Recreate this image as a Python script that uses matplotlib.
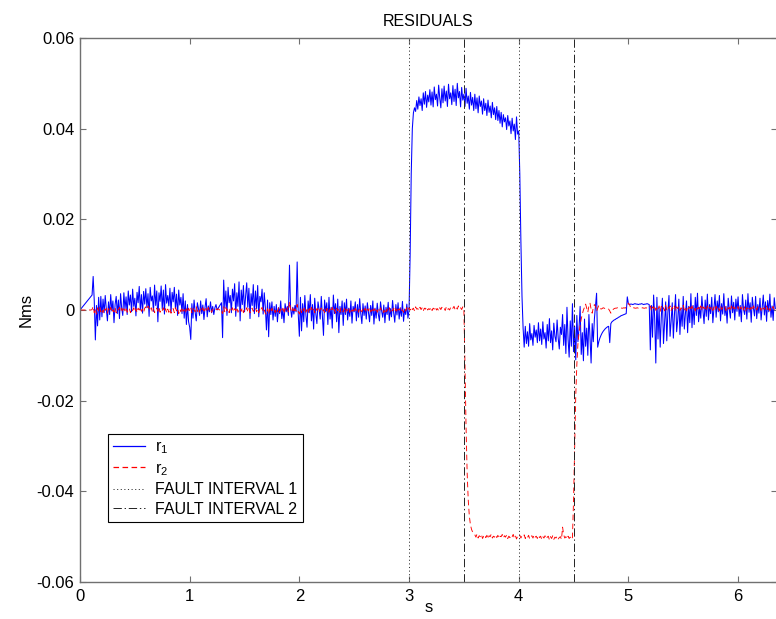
import numpy as np
import matplotlib
matplotlib.use("Agg")
import matplotlib.pyplot as plt

plt.rcParams["font.family"] = ["Liberation Sans", "DejaVu Sans"]
plt.rcParams["mathtext.default"] = "regular"
plt.rcParams["axes.unicode_minus"] = False
plt.rcParams["lines.scale_dashes"] = False

# sampling step of the residual traces (s)
DT = 0.01

# residual r1, in 1e-3 Nms, one row per 0.2 s
r1_milli = [
    0.0, 0.3, 0.6, 0.9, 1.2, 1.5, 1.8, 2.1, 2.4, 2.7, 3.0, 3.3, 7.4, 2.0, -6.6, 1.0, -3.5, 2.8, -2.2, 3.0,
    -1.5, 2.4, -0.6, 3.2, 0.2, -2.4, 1.8, -1.0, 3.4, -0.2, 2.0, -2.8, 1.2, 3.0, -0.8, 2.2, -1.9, 3.6, 0.4, -1.2,
    3.8, 0.2, 2.9, -1.0, 4.2, 1.1, 3.3, -0.4, 4.6, 0.8, 2.6, -1.3, 3.9, 1.6, 5.2, 0.0, 3.4, -0.7, 4.1, 1.3,
    4.7, 0.5, 3.6, -1.4, 5.0, 2.0, 3.1, -0.3, 5.5, 1.0, 4.2, -2.6, 3.8, 1.9, 5.3, 0.2, 4.4, -0.9, 5.6, 1.5,
    3.2, 0.9, 4.8, -0.6, 3.9, 1.8, 5.0, 0.4, 3.5, -1.2, 4.4, 1.1, 2.8, -0.8, 3.6, -1.8, 2.0, -3.2, 1.2, -2.6,
    -3.8, -6.5, 1.4, -1.8, 2.2, -0.5, -2.4, 1.6, 0.3, -1.2, 2.0, -0.8, 1.1, -2.1, 0.6, 2.5, -1.5, 0.9, -0.4, 1.8,
    -0.6, 0.8, -1.0, 0.5, 1.2, 0.0, 0.4, 0.8, 1.2, 1.6, -6.1, 6.6, 0.4, 4.2, -1.2, 5.0, 1.6, 3.2, -0.6, 4.6,
    2.0, 5.8, -1.4, 3.8, 0.8, 6.2, -2.4, 4.4, 1.2, 5.4, -0.4, 3.1, 6.0, 0.6, 4.8, -1.9, 3.6, 1.0, 5.6, -0.8,
    4.2, 0.3, 5.4, -1.5, 3.0, 1.8, 4.6, -0.9, 3.8, 0.5, -4.4, 2.2, -5.9, 1.6, -1.0, 1.8, -2.2, 0.8, -1.4, 1.2,
    -2.6, 0.5, -0.8, 2.0, -1.9, 0.2, -2.8, 1.4, -0.4, 0.8, -1.2, 9.9, 0.4, -1.6, 0.6, -0.9, 1.0, -0.4, 10.6, -1.0,
    -5.8, 2.8, -4.6, 1.4, -2.6, 3.2, -1.2, -3.8, 2.0, -0.6, 3.4, -2.4, 1.2, -4.2, 2.6, -0.8, -3.0, 1.8, 0.2, -2.0,
    3.0, -1.4, -5.6, 2.2, -0.4, 1.6, -3.2, 2.8, -2.0, 0.6, -4.0, 3.3, -0.8, 1.4, -2.6, 2.4, -5.0, 0.8, -1.0, 2.0,
    -3.4, 1.6, -1.0, 2.4, -2.2, 0.4, -1.4, 2.0, -2.9, 0.8, -0.4, 1.8, -2.4, 1.2, -1.6, 2.5, -0.8, -3.0, 1.4, -1.2,
    0.9, -2.0, 1.6, -0.6, -2.6, 1.0, -1.2, 2.0, -3.1, 0.4, -1.8, 1.5, -0.9, -2.4, 1.8, -0.2, -1.6, 1.1, -2.8, 0.6,
    -1.0, 1.7, -2.3, 0.3, -1.5, 2.1, -0.6, -2.7, 1.2, -1.1, 1.6, -2.0, 0.5, -1.4, 1.9, -2.5, 0.2, -1.0, 1.3, -1.8,
    0.0, 12.0, 30.0, 40.0, 43.5, 44.6, 43.8, 46.2, 44.3, 47.0, 45.1, 46.6, 44.0, 47.9, 45.4, 48.2, 44.7, 47.4, 45.9, 48.6,
    45.2, 48.1, 44.8, 49.2, 46.4, 47.6, 45.0, 49.6, 46.8, 44.6, 48.8, 45.7, 49.4, 46.1, 48.3, 44.9, 49.8, 46.6, 47.9, 45.3,
    49.5, 46.0, 48.7, 45.1, 50.0, 46.8, 48.2, 44.8, 49.1, 46.3, 47.6, 44.9, 48.9, 45.6, 47.2, 44.3, 48.0, 45.2, 46.9, 44.0,
    47.6, 44.4, 46.8, 43.5, 47.2, 44.9, 46.1, 43.2, 46.6, 44.0, 45.6, 42.9, 46.3, 43.6, 45.0, 42.4, 45.8, 43.1, 44.6, 42.0,
    44.9, 41.8, 44.0, 41.2, 43.6, 40.4, 43.1, 41.5, 42.4, 39.8, 42.9, 40.6, 41.7, 38.9, 42.3, 39.5, 41.0, 37.6, 42.6, 38.8,
    39.5, 30.0, 15.0, 3.0, -4.0, -8.2, -3.6, -7.4, -4.8, -8.0, -3.0, -6.6, -5.2, -7.8, -3.4, -6.0, -4.4, -7.2, -2.8, -6.8,
    -4.2, -7.6, -2.6, -6.4, -5.0, -8.4, -3.2, -6.8, -1.9, -7.2, -4.6, -8.8, -2.9, -5.8, -7.0, -2.2, -6.2, -8.6, -3.8, -5.4,
    -1.0, -7.8, -3.2, -9.6, 0.6, -6.4, -10.4, -2.4, -8.0, 1.4, -9.2, -3.6, -11.0, -1.2, -7.0, -4.0, 0.8, -9.8, -5.0, -11.2,
    -2.0, -8.0, -4.0, -10.0, -1.0, -6.0, -11.7, -3.0, -7.0, -2.0, 1.0, 3.7, -8.2, -7.0, -6.2, -5.6, -5.1, -4.7, -4.4, -4.1,
    -3.9, -3.7, -3.6, -7.2, -3.0, -2.6, -2.4, -2.2, -2.1, -1.9, -1.8, -1.6, -1.5, -1.3, -1.2, -1.1, -1.0, -0.9, -0.8, 2.9,
    1.4, 1.2, 1.3, 1.3, 1.2, 1.3, 1.4, 1.3, 1.3, 1.2, 1.3, 1.3, 1.4, 1.3, 1.2, 1.3, 1.3, 1.4, 1.3, 1.2,
    -8.8, 1.0, -6.0, 3.3, -2.0, -11.7, 2.8, -6.4, 0.4, -8.2, -1.6, 2.6, -7.4, -3.0, 1.8, -6.8, -0.6, 3.2, -5.8, -2.4,
    1.6, -6.2, -1.0, 3.4, -4.8, -2.2, 2.4, -5.4, 0.2, -3.6, 3.0, -4.2, -0.8, 2.0, -5.0, 0.8, -2.8, 3.6, -3.9, 1.0,
    -3.2, 2.8, -1.2, 3.7, -2.6, 0.6, -1.8, 3.0, -0.2, -3.0, 2.2, -1.4, 3.5, -2.2, 1.2, -0.8, 2.8, -2.8, 0.4, 3.4,
    -1.6, 2.0, -0.4, 3.2, -2.4, 1.4, -0.9, 3.6, -1.2, 0.8, -2.9, 2.6, 0.2, -1.8, 3.1, -0.6, 1.7, -2.2, 2.4, -0.3,
    2.9, -1.4, 1.0, -2.6, 3.4, 0.1, -1.0, 2.2, -2.0, 3.6, -0.5, 1.6, -2.7, 2.8, 0.4, -1.3, 3.0, -1.9, 1.2, -0.7,
    2.6, -2.2, 0.6, 3.3, -1.1, 1.8, -2.5, 2.1, -0.4, 3.5, -1.6, 0.9, -2.3, 2.7, 0.3,
]

# residual r2, in 1e-3 Nms, same sampling
r2_milli = [
    0.0, 0.0, 0.0, 0.0, 0.0, 0.0, 0.0, 0.0, 0.0, 0.0, 0.0, 0.1, 0.8, -0.6, 0.3, -0.9, 0.5, -0.2, 0.6, -0.4,
    0.2, -0.6, 0.5, -0.1, 0.4, -0.7, 0.3, -0.3, 0.6, -0.5, 0.1, -0.4, 0.5, -0.6, 0.2, 0.0, 0.6, -0.3, 0.4, -0.5,
    0.3, -0.2, 0.6, -0.5, 0.1, 0.4, -0.6, 0.2, -0.1, 0.5, -0.4, 0.3, -0.6, 0.4, 0.0, 0.6, -0.3, 0.2, -0.5, 0.4,
    0.7, 0.2, 0.9, 0.4, -0.2, 0.5, -0.4, 0.3, -0.6, 0.1, 0.4, -0.3, 0.6, -0.5, 0.2, -0.1, 0.5, -0.4, 0.3, -0.6,
    0.2, -0.5, 0.4, -0.7, 0.1, 0.3, -0.6, 0.5, -0.2, 0.4, -0.8, 0.2, -0.4, 0.6, -0.3, 0.1, -0.7, 0.3, -0.5, 0.4,
    -0.2, 0.5, -0.6, 0.3, 0.0, -0.4, 0.7, -0.3, 0.2, -0.5, 0.4, -0.1, 0.5, -0.6, 0.2, 0.3, -0.4, 0.6, -0.2, 0.1,
    -0.5, 0.2, -0.1, 0.0, 0.2, 0.1, 0.3, 0.0, 0.2, -0.2, -0.8, 0.7, -0.4, 0.5, -0.2, 0.3, -0.6, 0.4, -0.1, 0.5,
    -0.4, 0.3, -0.2, 0.6, -0.5, 0.1, 0.4, -0.3, 0.5, -0.6, 0.2, -0.1, 0.5, -0.4, 0.3, -0.6, 0.2, 0.4, -0.3, 0.1,
    0.5, -0.4, 0.2, -0.6, 0.3, -0.1, 0.6, -0.5, 0.0, -0.7, -1.0, 0.3, -0.9, 0.2, -0.5, 0.4, -0.3, 0.1, -0.6, 0.3,
    -0.4, 0.5, -0.6, 0.2, -0.3, 0.4, -0.8, 0.3, -0.2, 0.5, -0.4, 1.8, 0.2, -0.5, 0.4, -0.6, 0.3, -0.2, 1.2, -0.3,
    -0.9, 0.3, -0.6, 0.4, -0.2, 0.5, -0.5, 0.1, -0.7, 0.3, -0.4, 0.6, -0.3, 0.2, -0.6, 0.4, -0.1, 0.3, -0.5, 0.2,
    0.4, -0.4, 0.1, -0.6, 0.3, -0.2, 0.5, -0.5, 0.2, -0.3, 0.6, -0.4, 0.1, -0.7, 0.4, -0.2, 0.3, -0.5, 0.5, -0.1,
    -0.4, 0.3, -0.6, 0.2, -0.1, 0.5, -0.5, 0.3, -0.3, 0.1, -0.6, 0.4, -0.2, 0.2, -0.5, 0.5, -0.1, -0.4, 0.3, -0.2,
    0.4, -0.5, 0.2, -0.2, 0.5, -0.4, 0.1, -0.6, 0.3, -0.1, 0.4, -0.5, 0.2, -0.3, 0.5, -0.2, 0.1, -0.6, 0.3, -0.4,
    0.2, -0.3, 0.5, -0.5, 0.1, -0.2, 0.4, -0.4, 0.3, -0.6, 0.2, 0.0, 0.4, -0.3, 0.1, -0.5, 0.3, -0.2, 0.5, -0.1,
    0.5, 0.0, 0.6, 0.1, 0.4, -0.2, 0.7, 0.2, 0.3, -0.1, 0.6, 0.1, 0.5, -0.2, 0.4, 0.2, 0.7, 0.0, 0.3, 0.1,
    0.6, -0.1, 0.4, 0.2, 0.7, 0.0, 0.3, -0.2, 0.5, 0.1, 0.6, 0.2, 0.4, -0.1, 0.7, 0.1, 0.3, 0.0, 0.6, 0.2,
    0.4, 0.8, 0.1, 0.6, 0.2, 0.9, 0.3, 0.5, 0.1, 0.7, 0.3, -12.0, -26.0, -36.0, -42.0, -45.5, -47.4, -48.4, -49.0, -49.3,
    -49.6, -50.1, -49.4, -50.3, -49.8, -50.0, -49.5, -50.4, -49.9, -49.6, -50.2, -49.7, -50.5, -49.8, -50.0, -49.4, -50.3, -49.9, -50.1, -49.6,
    -50.2, -49.7, -50.4, -49.9, -50.0, -49.5, -50.3, -49.8, -50.1, -49.6, -50.4, -49.9, -50.2, -49.7, -50.0, -49.5, -50.3, -49.8, -50.5, -49.9,
    -50.1, -49.7, -50.3, -49.8, -50.0, -49.6, -50.4, -49.9, -50.2, -49.7, -50.5, -50.0, -49.8, -50.3, -49.6, -50.1, -49.9, -50.4, -49.7, -50.2,
    -49.9, -50.6, -50.0, -50.3, -49.8, -50.5, -50.1, -49.9, -50.7, -50.0, -50.4, -49.8, -50.6, -50.1, -50.3, -49.9, -50.5, -50.2, -50.0, -50.6,
    -47.9, -49.6, -50.3, -50.0, -50.5, -49.9, -50.4, -50.1, -50.6, -50.2, -42.0, -30.0, -19.0, -12.0, -7.5, -5.0, -3.4, -2.0, -0.9, 0.0,
    0.6, 1.3, 0.4, -0.5, 0.9, 1.5, 0.2, -0.7, 0.5, 1.2, 0.8, -0.3, 0.4, 1.0, 0.6, 0.2, 0.3, 0.5, 0.4, 0.3,
    0.4, 0.3, 0.2, -0.2, -0.7, -0.3, 0.1, 0.3, 0.4, 0.4, 0.5, 0.4, 0.4, 0.5, 0.4, 0.4, 0.5, 0.4, 0.6, 0.9,
    1.5, 1.2, 0.6, 0.4, 0.4, 0.5, 0.4, 0.4, 0.5, 0.4, 0.4, 0.3, 0.4, 0.5, 0.4, 0.4, 0.5, 0.4, 0.4, 0.5,
    0.9, -0.2, 0.7, 0.3, 1.0, -0.1, 0.6, 0.1, 0.9, -0.3, 0.8, 0.2, 0.5, -0.2, 1.0, 0.0, 0.7, 0.3, 0.9, -0.1,
    0.6, 0.1, 0.9, -0.2, 0.7, 0.3, 0.8, -0.1, 0.5, 0.2, 1.0, 0.0, 0.6, -0.2, 0.8, 0.3, 0.7, -0.1, 0.9, 0.1,
    0.5, -0.2, 0.8, 0.2, 0.6, 0.0, 0.9, -0.1, 0.7, 0.3, 0.5, -0.2, 0.9, 0.1, 0.6, 0.2, 0.8, -0.1, 0.7, 0.0,
    0.8, 0.2, 0.6, -0.2, 0.9, 0.1, 0.5, 0.3, 0.8, -0.1, 0.7, 0.2, 0.6, -0.2, 0.9, 0.0, 0.7, 0.3, 0.5, 0.1,
    0.8, -0.1, 0.6, 0.2, 0.9, 0.0, 0.7, -0.2, 0.5, 0.3, 0.8, 0.1, 0.6, -0.1, 0.9, 0.2, 0.5, 0.0, 0.7, 0.3,
    0.6, -0.1, 0.8, 0.2, 0.5, 0.0, 0.9, 0.1, 0.7, -0.2, 0.6, 0.3, 0.8, 0.0, 0.5,
]

fault1_times = [3.0, 4.0]
fault2_times = [3.5, 4.5]

x_ticks = [0, 1, 2, 3, 4, 5, 6]
y_ticks = [-0.06, -0.04, -0.02, 0, 0.02, 0.04, 0.06]
y_tick_labels = ["-0.06", "-0.04", "-0.02", "0", "0.02", "0.04", "0.06"]

t1 = np.arange(len(r1_milli)) * DT
t2 = np.arange(len(r2_milli)) * DT
r1 = np.array(r1_milli) / 1000.0
r2 = np.array(r2_milli) / 1000.0

fig = plt.figure(figsize=(7.76, 6.19), dpi=100)
ax = fig.add_axes([80 / 776, 37 / 619, 697 / 776, 544 / 619])

ax.plot(t1, r1, color="#0000ff", lw=0.75, label="r$_1$")
ax.plot(t2, r2, color="#ff0000", lw=0.65, dashes=(4.0, 2.5), label="r$_2$")

for i, tv in enumerate(fault1_times):
    ax.plot([tv, tv], [-0.06, 0.06], color="#333333", lw=0.7,
            dashes=(0.8, 1.8), label="FAULT INTERVAL 1" if i == 0 else None)
for i, tv in enumerate(fault2_times):
    ax.plot([tv, tv], [-0.06, 0.06], color="#222222", lw=0.7,
            dashes=(6.0, 2.0, 1.0, 2.0), label="FAULT INTERVAL 2" if i == 0 else None)

ax.set_xlim(0, 6.355)
ax.set_ylim(-0.06, 0.06)
ax.set_xticks(x_ticks)
ax.set_xticklabels([str(v) for v in x_ticks])
ax.set_yticks(y_ticks)
ax.set_yticklabels(y_tick_labels)

for sp in ax.spines.values():
    sp.set_color("#707070")
    sp.set_linewidth(1.0)
ax.tick_params(direction="in", length=4.5, width=0.8, color="#707070",
               top=True, right=True, labelsize=12, labelcolor="black")
ax.tick_params(axis="x", pad=5)
ax.tick_params(axis="y", pad=4)

ax.set_title("RESIDUALS", fontsize=11.5, pad=9)
ax.set_ylabel("Nms", fontsize=12)
ax.yaxis.set_label_coords(-0.067, 0.5)
ax.set_xlabel("s", fontsize=12)
ax.xaxis.set_label_coords(0.5, -0.033)

leg = ax.legend(loc="lower left", bbox_to_anchor=(0.040, 0.110), borderaxespad=0,
                fontsize=11.5, frameon=True, fancybox=False, framealpha=1,
                edgecolor="black", handlelength=2.0, handletextpad=0.6,
                labelspacing=0.28, borderpad=0.35)
leg.get_frame().set_linewidth(0.8)
for handle in leg.get_lines()[:2]:
    handle.set_linewidth(0.9)

fig.savefig("out.png", dpi=100)
